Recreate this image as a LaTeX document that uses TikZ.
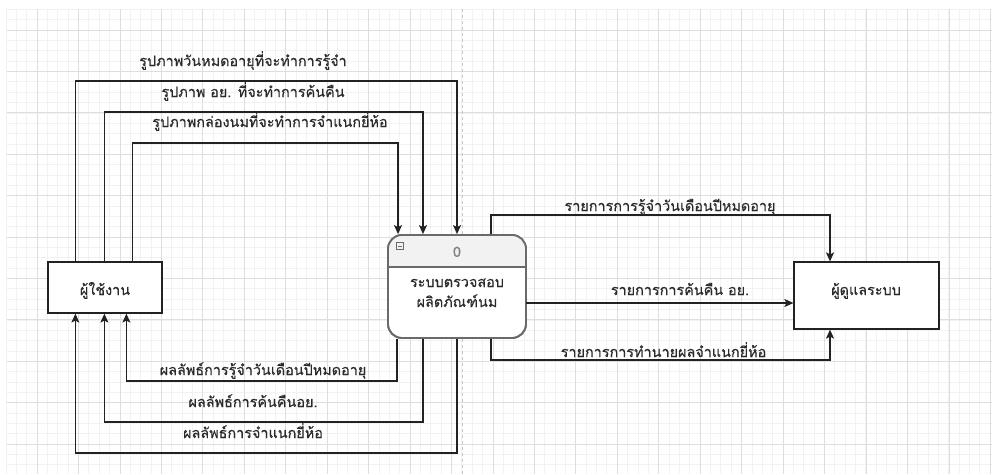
\documentclass[tikz,border=0pt]{standalone}
\usepackage{fontspec}
\setmainfont[Script=Thai,FakeBold=0.35]{Loma}
\usetikzlibrary{arrows.meta}
\definecolor{gridmaj}{HTML}{DEDEDE}
\definecolor{gridmin}{HTML}{F2F2F2}
\definecolor{linec}{HTML}{222222}
\definecolor{txtc}{HTML}{2A2A2A}
\definecolor{procb}{HTML}{6A6A6A}
\definecolor{headf}{HTML}{F2F2F2}
\begin{document}
\begin{tikzpicture}[x=1pt,y=-1pt,
  font=\fontsize{14.4}{17}\selectfont,
  gmin/.style={draw=gridmin,line width=0.6pt},
  gmaj/.style={draw=gridmaj,line width=0.8pt},
  flow/.style={draw=linec,line width=1.2pt,-{Stealth[length=9pt,width=8pt,inset=2pt]}},
  entity/.style={draw=linec,line width=1.2pt,fill=white,rectangle,inner sep=0pt,text=txtc},
  lbl/.style={text=txtc,inner sep=0pt,anchor=base}]
\useasboundingbox (0,0) rectangle (992,474);
\fill[white] (0,0) rectangle (992,474);
% grid
\foreach \i in {0,...,95} {\draw[gmin] ({5.9+\i*10.36},9) -- ({5.9+\i*10.36},474);}
\foreach \i in {0,...,45} {\draw[gmin] (7,{9.3+\i*10.35}) -- (992,{9.3+\i*10.35});}
\foreach \i in {0,...,23} {\draw[gmaj] ({37.0+\i*41.45},9) -- ({37.0+\i*41.45},474);}
\foreach \i in {0,...,11} {\draw[gmaj] (7,{30+\i*41.4}) -- (992,{30+\i*41.4});}
\draw[draw=gridmaj!90!black,dashed,line width=0.8pt] (462,9) -- (462,474);

% nodes
\node[entity,minimum width=114pt,minimum height=51pt] (user) at (105,287.5) {};
\node[lbl] (usert) at (105,295) {ผู้ใช้งาน};
\node[entity,minimum width=145pt,minimum height=67pt] (adm) at (866.5,295.5) {};
\node[lbl] (admt) at (866,295) {ผู้ดูแลระบบ};
\node[draw=procb,line width=1.8pt,rounded corners=14pt,fill=white,minimum width=138pt,minimum height=103pt,inner sep=0pt] (proc) at (457,286.5) {};
\begin{scope}
\clip[rounded corners=14pt] (388,235) rectangle (526,338);
\fill[headf] (388,235) rectangle (526,267);
\end{scope}
\draw[procb,line width=1.2pt] (388,267) -- (526,267);
\draw[draw=procb,line width=1.8pt,rounded corners=14pt] (388,235) rectangle (526,338);
\node[draw=procb,fill=headf,line width=0.6pt,minimum size=6.5pt,inner sep=0pt] (mini) at (400,246) {};
\draw[procb,line width=0.8pt] ([xshift=1.5pt]mini.west) -- ([xshift=-1.5pt]mini.east);
\node[lbl,text=gray] (pnum) at (457,257) {0};
\node[lbl] (ptxt1) at (457,287) {ระบบตรวจสอบ};
\node[lbl] (ptxt2) at (457,307) {ผลิตภัณฑ์นม};

% bend coordinates
\coordinate (t1) at (457,81);
\coordinate (t2) at (423,112);
\coordinate (t3) at (398,143);
\coordinate (b1) at (397,381);
\coordinate (b2) at (423,422);
\coordinate (b3) at (457,453);
\coordinate (r1) at (491,215);
\coordinate (r1e) at (830,215);
\coordinate (r3) at (491,360);
\coordinate (r3e) at (830,360);
\coordinate (m2) at (526,303);

% user -> process
\draw[flow] ([xshift=28pt]user.north west) |- (t1) -- (t1 |- proc.north);
\draw[flow] ([xshift=57pt]user.north west) |- (t2) -- (t2 |- proc.north);
\draw[flow] ([xshift=85pt]user.north west) |- (t3) -- (t3 |- proc.north);
% process -> user
\draw[flow] (b1 |- proc.south) -- (b1) -| ([xshift=79pt]user.south west);
\draw[flow] (b2 |- proc.south) -- (b2) -| ([xshift=57pt]user.south west);
\draw[flow] (b3 |- proc.south) -- (b3) -| ([xshift=28pt]user.south west);
% process -> admin
\draw[flow] (r1 |- proc.north) -- (r1) -- (r1e) -- (r1e |- adm.north);
\draw[flow] (m2) -- (m2 -| adm.west);
\draw[flow] (r3 |- proc.south) -- (r3) -- (r3e) -- (r3e |- adm.south);

% labels
\node[lbl] (l1) at (243,66) {รูปภาพวันหมดอายุที่จะทำการรู้จำ};
\node[lbl] (l2) at (253,97) {รูปภาพ อย. ที่จะทำการค้นคืน};
\node[lbl] (l3) at (270,127) {รูปภาพกล่องนมที่จะทำการจำแนกยี่ห้อ};
\node[lbl] (l4) at (263,375) {ผลลัพธ์การรู้จำวันเดือนปีหมดอายุ};
\node[lbl] (l5) at (253,407) {ผลลัพธ์การค้นคืนอย.};
\node[lbl] (l6) at (253,438) {ผลลัพธ์การจำแนกยี่ห้อ};
\node[lbl] (l7) at (670,211) {รายการการรู้จำวันเดือนปีหมดอายุ};
\node[lbl] (l8) at (680,295) {รายการการค้นคืน อย.};
\node[lbl] (l9) at (663.5,357) {รายการการทำนายผลจำแนกยี่ห้อ};
\end{tikzpicture}
\end{document}
